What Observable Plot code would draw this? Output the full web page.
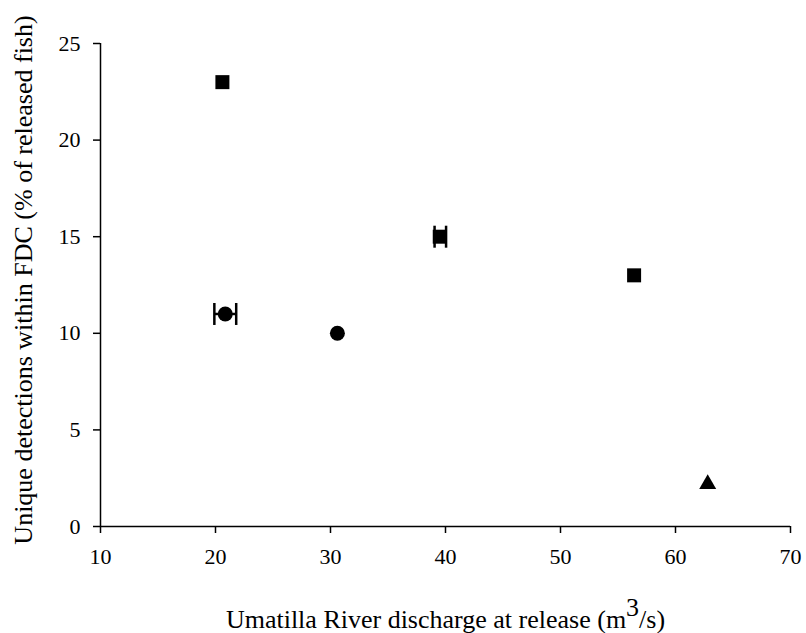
<!DOCTYPE html>
<html>
<head>
<meta charset="utf-8">
<script src="https://cdn.jsdelivr.net/npm/d3@7"></script>
<script src="https://cdn.jsdelivr.net/npm/@observablehq/plot@0.6"></script>
<style>
  html, body { margin: 0; padding: 0; background: #fff; }
  #chart svg { display: block; }
</style>
</head>
<body>
<div id="chart"></div>
<script>
// Data
const squareX = [20.6, 39.5, 56.4];
const squareY = [23, 15, 13];
const circleX = [20.85, 30.6];
const circleY = [11, 10];
const triangleX = [62.8];
const triangleY = [2.2];
// Horizontal error bars (x range at release)
const errY = [11, 15];
const errLo = [19.9, 39.05];
const errHi = [21.8, 40.05];

const xTicks = [10, 20, 30, 40, 50, 60, 70];
const yTicks = [0, 5, 10, 15, 20, 25];
const xLabelMain = "Umatilla River discharge at release (m";
const xLabelSup = "3";
const xLabelEnd = "/s)";
const yLabel = "Unique detections within FDC (% of released fish)";

const squares = squareX.map((x, i) => ({x, y: squareY[i]}));
const circles = circleX.map((x, i) => ({x, y: circleY[i]}));
const triangles = triangleX.map((x, i) => ({x, y: triangleY[i]}));
const errs = errY.map((y, i) => ({y, lo: errLo[i], hi: errHi[i]}));

// vertical line symbol for error-bar caps
const capSymbol = {
  draw(ctx, size) {
    const h = Math.sqrt(size) / 2;
    ctx.moveTo(0, -h);
    ctx.lineTo(0, h);
  }
};

const FS = 22;   // tick labels
const LS = 26;   // axis titles
const xLabelFull = xLabelMain + xLabelSup + xLabelEnd;
const plot = Plot.plot({
  width: 806,
  height: 633,
  marginLeft: 100,
  marginRight: 16,
  marginTop: 43,
  marginBottom: 107,
  style: {fontFamily: "'Liberation Serif', 'Times New Roman', serif", fontSize: FS + "px", color: "#000", background: "#fff"},
  x: {domain: [10, 70]},
  y: {domain: [0, 25]},
  marks: [
    Plot.axisX({ticks: xTicks, tickSize: 7, tickPadding: 15, tickFormat: d => String(d), label: null, fontSize: FS, strokeWidth: 1.5}),
    Plot.axisY({ticks: yTicks, tickSize: 7, tickPadding: 13, tickFormat: d => String(d), label: null, fontSize: FS, strokeWidth: 1.5}),
    Plot.ruleY([0], {stroke: "#000", strokeWidth: 1.5}),
    Plot.ruleX([10], {stroke: "#000", strokeWidth: 1.5}),
    Plot.link(errs, {x1: "lo", x2: "hi", y1: "y", y2: "y", stroke: "#000", strokeWidth: 2.5}),
    Plot.dot(errs, {x: "lo", y: "y", symbol: capSymbol, r: 12.4, stroke: "#000", strokeWidth: 2.5, fill: "none"}),
    Plot.dot(errs, {x: "hi", y: "y", symbol: capSymbol, r: 12.4, stroke: "#000", strokeWidth: 2.5, fill: "none"}),
    Plot.dot(squares, {x: "x", y: "y", symbol: "square", r: 7.9, fill: "#000", stroke: "none"}),
    Plot.dot(circles, {x: "x", y: "y", symbol: "circle", r: 7.5, fill: "#000", stroke: "none"}),
    Plot.dot(triangles, {x: "x", y: "y", symbol: "triangle", r: 6.3, fill: "#000", stroke: "none"}),
    Plot.text([xLabelFull], {text: d => d, frameAnchor: "bottom", textAnchor: "middle", dy: 93, fontSize: LS, fill: "#000", lineAnchor: "middle"}),
    Plot.text([yLabel], {text: d => d, frameAnchor: "left", textAnchor: "middle", rotate: -90, dx: -77, dy: -5, fontSize: LS, fill: "#000", lineAnchor: "middle"})
  ]
});

// Render the superscript 3 in the x label
const xt = Array.from(plot.querySelectorAll("text")).find(t => t.textContent === xLabelFull);
if (xt) {
  while (xt.firstChild) xt.removeChild(xt.firstChild);
  const ns = "http://www.w3.org/2000/svg";
  const a = document.createElementNS(ns, "tspan"); a.textContent = xLabelMain;
  const b = document.createElementNS(ns, "tspan"); b.textContent = xLabelSup;
  b.setAttribute("dy", "-0.46em");
  const c = document.createElementNS(ns, "tspan"); c.textContent = xLabelEnd;
  c.setAttribute("dy", "0.46em");
  xt.appendChild(a); xt.appendChild(b); xt.appendChild(c);
}
document.getElementById("chart").appendChild(plot);
</script>
</body>
</html>
